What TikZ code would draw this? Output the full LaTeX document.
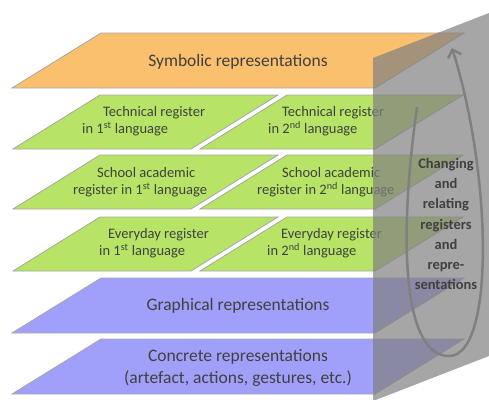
\documentclass[tikz,border=0pt]{standalone}
\usepackage{fontspec}
\setmainfont{Carlito}
\usetikzlibrary{arrows.meta}
\definecolor{symbolic}{RGB}{250,192,110}
\definecolor{register}{RGB}{183,228,102}
\definecolor{graphical}{RGB}{160,160,250}
\definecolor{labeltext}{RGB}{64,64,64}

\begin{document}
\begin{tikzpicture}[x=1pt, y=-1pt,
    layer/.style={draw=black!35, line width=.8pt},
    biglabel/.style={text=labeltext, font=\fontsize{17.5}{22.5}\selectfont, align=center},
    smalllabel/.style={text=labeltext, font=\fontsize{14.5}{17}\selectfont, align=left, anchor=west, inner sep=0pt},
    sidelabel/.style={text=labeltext, font=\fontsize{14.5}{20.3}\selectfont\bfseries, align=center},
    cyclearrow/.style={draw=black!50, line width=2.5pt, -{Straight Barb[length=7pt, width=14pt]}}
]
    \useasboundingbox (0,0) rectangle (489,399);
    % Representation Layers
    \foreach \t/\c in {33/symbolic, 278/graphical, 339/graphical} {
        \draw[layer, fill=\c] (101,\t) -- (464,\t) -- (375,\t+55) -- (12,\t+55) -- cycle;
    }
    % Register Layers
    \foreach \t in {95,155,217} {
        \draw[layer, fill=register] (100,\t) -- (278,\t) -- (191,\t+54) -- (13,\t+54) -- cycle;
        \draw[layer, fill=register] (287,\t) -- (463,\t) -- (375,\t+54) -- (200,\t+54) -- cycle;
    }
    % Labels
    \node[biglabel] (Symbolic) at (238,62) {Symbolic representations};
    \node[smalllabel] (Technical-1) at (82,121) {\hspace*{21pt}Technical register\\in 1\textsuperscript{st} language};
    \node[smalllabel] (Technical-2) at (268,121) {\hspace*{14pt}Technical register\\in 2\textsuperscript{nd} language};
    \node[smalllabel] (School-1) at (73,182) {\hspace*{24pt}School academic\\register in 1\textsuperscript{st} language};
    \node[smalllabel] (School-2) at (257,182) {\hspace*{25pt}School academic\\register in 2\textsuperscript{nd} language};
    \node[smalllabel] (Everyday-1) at (99,243) {\hspace*{9pt}Everyday register\\in 1\textsuperscript{st} language};
    \node[smalllabel] (Everyday-2) at (267,243) {\hspace*{14pt}Everyday register\\in 2\textsuperscript{nd} language};
    \node[biglabel] (Graphical) at (238,306) {Graphical representations};
    \node[biglabel] (Concrete) at (238,368) {Concrete representations\\(artefact, actions, gestures, etc.)};
    % Changing Pane
    \fill[black!50, opacity=.7] (373,58) -- (489,13) -- (489,356) -- (373,401) -- cycle;
    \coordinate (Loop-start) at (417,107);
    \coordinate (Loop-bottom) at (449,356);
    \coordinate (Loop-end) at (452,48);
    \draw[cyclearrow] (Loop-start) .. controls (397,250) and (405,356) .. (Loop-bottom)
        .. controls (495,356) and (492,175) .. (Loop-end);
    \node[sidelabel] (Changing) at (446,224) {Changing\\and\\relating\\registers\\and\\repre-\\sentations};
\end{tikzpicture}
\end{document}
